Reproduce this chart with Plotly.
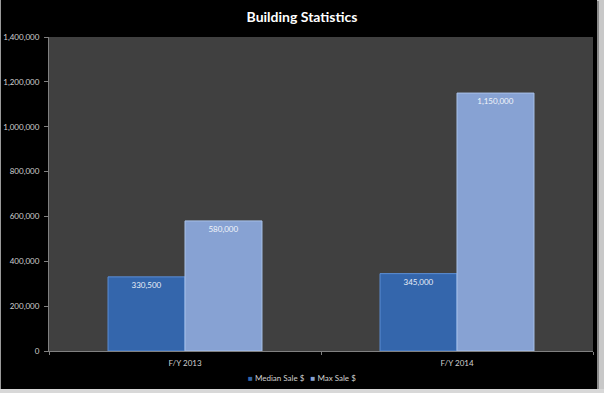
import plotly.graph_objects as go

categories = ["F/Y 2013", "F/Y 2014"]
median_sale = [330500, 345000]
max_sale = [580000, 1150000]
series_names = ["Median Sale $", "Max Sale $"]
series_colors = ["#3466AC", "#87A2D3"]
y_ticks = [0, 200000, 400000, 600000, 800000, 1000000, 1200000, 1400000]
y_tick_labels = ["0", "200,000", "400,000", "600,000", "800,000", "1,000,000", "1,200,000", "1,400,000"]

W, H = 604, 393
L, R, T, B = 49, 11, 37, 42
pw, ph = W - L - R, H - T - B

def px(x):
    return (x - L) / pw

def py(y):
    return (H - B - y) / ph

font_family = "Lato, 'Open Sans', sans-serif"

fig = go.Figure()
fig.add_trace(go.Bar(
    x=categories, y=median_sale, name=series_names[0], showlegend=False,
    marker=dict(color=series_colors[0], line=dict(color="#5C8ED4", width=1)),
    text=[f"{v:,}" for v in median_sale], textposition="inside",
    insidetextanchor="end", textangle=0,
    textfont=dict(color="#E8EEF8", size=8, family=font_family),
))
fig.add_trace(go.Bar(
    x=categories, y=max_sale, name=series_names[1], showlegend=False,
    marker=dict(color=series_colors[1], line=dict(color="#A9C2EA", width=1)),
    text=[f"{v:,}" for v in max_sale], textposition="inside",
    insidetextanchor="end", textangle=0,
    textfont=dict(color="#F2F5FA", size=8, family=font_family),
))

legend_text = "   ".join(
    f"<span style='color:{c}'>■</span> {n}" for n, c in zip(series_names, series_colors)
)

fig.update_layout(
    width=W, height=H,
    margin=dict(l=L, r=R, t=T, b=B, autoexpand=False),
    paper_bgcolor="#000000",
    plot_bgcolor="#404040",
    barmode="group", bargap=0.434, bargroupgap=0,
    title=dict(text="<b>Building Statistics</b>", x=0.5, xanchor="center",
               y=1 - 17 / H, yanchor="middle",
               font=dict(color="#FFFFFF", size=14, family=font_family)),
    font=dict(family=font_family, color="#D0D0D0", size=8),
    showlegend=False,
    annotations=[dict(text=legend_text, xref="paper", yref="paper",
                      x=px(302), y=py(378), xanchor="center", yanchor="middle",
                      showarrow=False,
                      font=dict(color="#D0D0D0", size=8, family=font_family))],
    xaxis=dict(showline=True, linecolor="#808080", linewidth=1,
               ticks="outside", tickson="boundaries", ticklen=3, tickcolor="#808080",
               ticklabelstandoff=4,
               tickfont=dict(color="#D0D0D0", size=8, family=font_family),
               showgrid=False, zeroline=False),
    yaxis=dict(range=[0, 1400000], tickvals=y_ticks, ticktext=y_tick_labels,
               showline=True, linecolor="#808080", linewidth=1,
               ticks="outside", ticklen=4, tickcolor="#808080",
               ticklabelstandoff=3,
               tickfont=dict(color="#D0D0D0", size=8, family=font_family),
               showgrid=False, zeroline=False),
)

shapes = [
    dict(type="rect", xref="paper", yref="paper", x0=px(597), x1=px(605), y0=py(394), y1=py(-1),
         fillcolor="#C8C8C8", line=dict(width=0), layer="below"),
    dict(type="rect", xref="paper", yref="paper", x0=px(-1), x1=px(605), y0=py(394), y1=py(389),
         fillcolor="#D8D8D8", line=dict(width=0), layer="below"),
    dict(type="rect", xref="paper", yref="paper", x0=px(597), x1=px(599), y0=py(389), y1=py(1),
         fillcolor="#8A8A8A", line=dict(width=0), layer="below"),
    dict(type="rect", xref="paper", yref="paper", x0=px(-1), x1=px(1), y0=py(389), y1=py(-1),
         fillcolor="#9A9A9A", line=dict(width=0), layer="below"),
]
fig.update_layout(shapes=shapes)

fig.write_html("out.html",
               config={"displayModeBar": False},
               post_script="document.body.style.margin='0';document.body.style.overflow='hidden';")
